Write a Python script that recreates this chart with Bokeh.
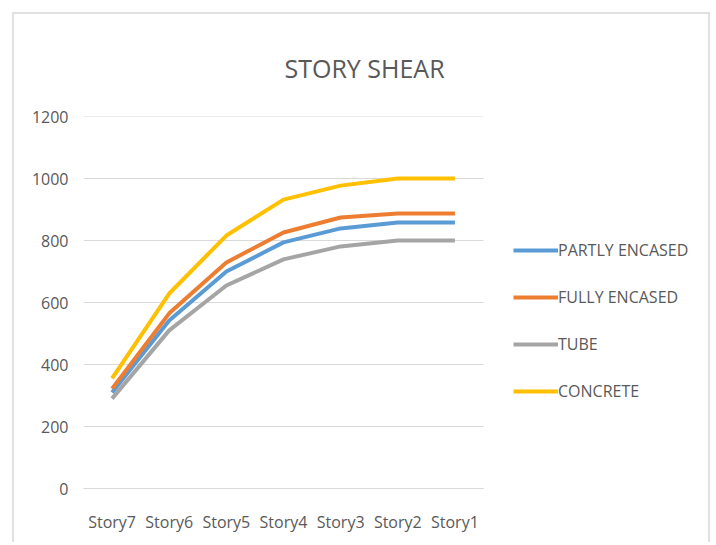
from bokeh.plotting import figure
from bokeh.models import Range1d, Legend, LegendItem, FixedTicker
from bokeh.embed import file_html
from bokeh.resources import INLINE

stories = ["Story7", "Story6", "Story5", "Story4", "Story3", "Story2", "Story1"]
partly_encased = [310, 542, 700, 794, 839, 858, 858]
fully_encased = [322, 565, 729, 826, 874, 887, 887]
tube = [290, 510, 655, 739, 781, 800, 800]
concrete = [355, 629, 816, 932, 977, 1000, 1000]
y_ticks = [0, 200, 400, 600, 800, 1000, 1200]

series = [
    ("PARTLY ENCASED", partly_encased, "#5B9BD5"),
    ("FULLY ENCASED", fully_encased, "#ED7D31"),
    ("TUBE", tube, "#A5A5A5"),
    ("CONCRETE", concrete, "#FFC000"),
]

FONT = "Open Sans"
TXT = "#595959"

x_idx = list(range(len(stories)))
x_lo = -0.5
x_hi = len(stories) - 0.5

p = figure(
    width=698, height=530,
    x_range=Range1d(x_lo, 10.3675),
    y_range=Range1d(y_ticks[0], y_ticks[-1]),
    output_backend="svg", toolbar_location=None,
    min_border_left=69, min_border_right=8,
    min_border_top=102, min_border_bottom=56,
)
p.styles = {
    "position": "relative", "left": "12px", "top": "12px",
    "border-top": "2px solid #E0E0E0",
    "border-left": "2px solid #E0E0E0",
    "border-right": "2px solid #E0E0E0",
}
p.background_fill_color = "white"
p.border_fill_color = "white"
p.outline_line_color = None

# horizontal gridlines spanning only the category area
n = len(y_ticks)
p.segment(x0=[x_lo] * n, y0=y_ticks, x1=[x_hi] * n, y1=y_ticks,
          line_color="#D9D9D9", line_width=1, level="underlay")

renderers = []
for name, vals, col in series:
    r = p.line(x_idx, vals, line_color=col, line_width=4, line_join="round")
    renderers.append((name, r))

legend = Legend(
    items=[LegendItem(label=nm, renderers=[r]) for nm, r in renderers],
    location=(430, 86), orientation="vertical",
    glyph_width=45, glyph_height=20, label_height=20, label_standoff=0,
    spacing=25, padding=0, margin=0,
    label_text_font=FONT, label_text_font_size="16px", label_text_color=TXT,
    border_line_color=None, background_fill_alpha=0,
)
p.add_layout(legend)

p.title.text = "STORY SHEAR"
p.title.align = "left"
p.title.offset = 201
p.title.standoff = 63
p.title.text_font = FONT
p.title.text_font_size = "25px"
p.title.text_font_style = "normal"
p.title.text_color = TXT

p.xgrid.grid_line_color = None
p.ygrid.grid_line_color = None

p.yaxis.ticker = FixedTicker(ticks=y_ticks)
p.yaxis.axis_line_color = None
p.yaxis.major_tick_line_color = None
p.yaxis.minor_tick_line_color = None
p.yaxis.major_label_standoff = 9
p.yaxis.major_label_text_font = FONT
p.yaxis.major_label_text_font_size = "16px"
p.yaxis.major_label_text_color = TXT

p.xaxis.ticker = FixedTicker(ticks=x_idx)
p.xaxis.major_label_overrides = {i: s for i, s in enumerate(stories)}
p.xaxis.bounds = (x_lo, x_hi)
p.xaxis.axis_line_color = "#D9D9D9"
p.xaxis.major_tick_line_color = None
p.xaxis.minor_tick_line_color = None
p.xaxis.major_label_standoff = 16
p.xaxis.major_label_text_font = FONT
p.xaxis.major_label_text_font_size = "16px"
p.xaxis.major_label_text_color = TXT

open("out.html", "w").write(file_html(p, INLINE))
